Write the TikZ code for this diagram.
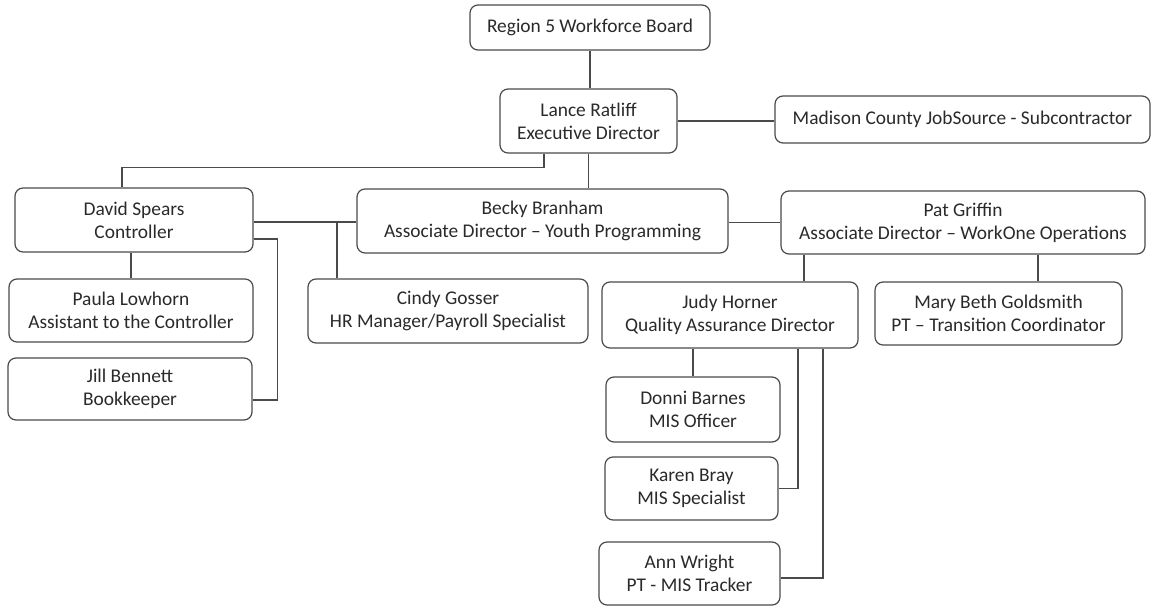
\documentclass[tikz,border=0pt]{standalone}
\usepackage{fontspec}
\setmainfont{Carlito}
\definecolor{linec}{HTML}{4A4A4A}
\definecolor{textc}{HTML}{2A2A2A}
\tikzset{
  orgbox/.style={draw=linec, line width=1.2pt, rounded corners=8pt, fill=white,
    inner sep=0pt, align=center, text=textc,
    font=\fontsize{19.4}{23}\selectfont},
  conn/.style={draw=linec, line width=1.2pt}
}
\begin{document}
\begin{tikzpicture}[x=1pt,y=-1pt]
\useasboundingbox (0,0) rectangle (1155,607);
\node[orgbox, minimum width=240pt, minimum height=45pt] (region) at (590,27.5) {Region 5 Workforce Board};
\node[orgbox, minimum width=177pt, minimum height=64pt] (lance) at (588.5,121) {Lance Ratliff\\Executive Director};
\node[orgbox, minimum width=375pt, minimum height=47pt] (madison) at (962.5,119.5) {Madison County JobSource - Subcontractor};
\node[orgbox, minimum width=238pt, minimum height=64pt] (david) at (134,220) {David Spears\\Controller};
\node[orgbox, minimum width=371pt, minimum height=64pt] (becky) at (542.5,221) {Becky Branham\\Associate Director – Youth Programming};
\node[orgbox, minimum width=364pt, minimum height=63pt] (pat) at (963,222.5) {Pat Griffin\\Associate Director – WorkOne Operations};
\node[orgbox, minimum width=244pt, minimum height=63pt] (paula) at (131,310.5) {Paula Lowhorn\\Assistant to the Controller};
\node[orgbox, minimum width=280pt, minimum height=64pt] (cindy) at (448,311) {Cindy Gosser\\HR Manager/Payroll Specialist};
\node[orgbox, minimum width=256pt, minimum height=66pt] (judy) at (730,315) {Judy Horner\\Quality Assurance Director};
\node[orgbox, minimum width=247pt, minimum height=63pt] (mary) at (998.5,313.5) {Mary Beth Goldsmith\\PT – Transition Coordinator};
\node[orgbox, minimum width=244pt, minimum height=62pt] (jill) at (130,389) {Jill Bennett\\Bookkeeper};
\node[orgbox, minimum width=174pt, minimum height=65pt] (donni) at (693,409.5) {Donni Barnes\\MIS Officer};
\node[orgbox, minimum width=173pt, minimum height=63pt] (karen) at (691.5,488.5) {Karen Bray\\MIS Specialist};
\node[orgbox, minimum width=181pt, minimum height=63pt] (ann) at (689.5,573.5) {Ann Wright\\PT - MIS Tracker};
\coordinate (cjoin) at (337,222);
% connectors
\draw[conn] (region.south) -- (region.south |- lance.north);
\draw[conn] (lance.east) -- (lance.east -| madison.west);
\draw[conn] ([xshift=-44.5pt]lance.south) -- ++(0,14) -| ([xshift=-12pt]david.north);
\draw[conn] (lance.south) -- (lance.south |- becky.north);
\draw[conn] ([yshift=-2pt]david.east) -- ([yshift=-2pt]david.east -| becky.west);
\draw[conn] (cjoin) -- (cjoin |- cindy.north);
\draw[conn] ([yshift=-19pt]david.east) -| ([xshift=25pt,yshift=-11pt]jill.east) -- ([yshift=-11pt]jill.east);
\draw[conn] (david.south -| paula.north) -- (paula.north);
\draw[conn] (becky.east |- pat.west) -- (pat.west);
\draw[conn] ([xshift=74pt]judy.north) -- ([xshift=74pt]judy.north |- pat.south);
\draw[conn] ([xshift=39.5pt]mary.north) -- ([xshift=39.5pt]mary.north |- pat.south);
\draw[conn] (donni.north) -- (donni.north |- judy.south);
\draw[conn] ([xshift=68pt]judy.south) |- (karen.east);
\draw[conn] ([xshift=93pt]judy.south) |- ([yshift=-4.5pt]ann.east);
\end{tikzpicture}
\end{document}
